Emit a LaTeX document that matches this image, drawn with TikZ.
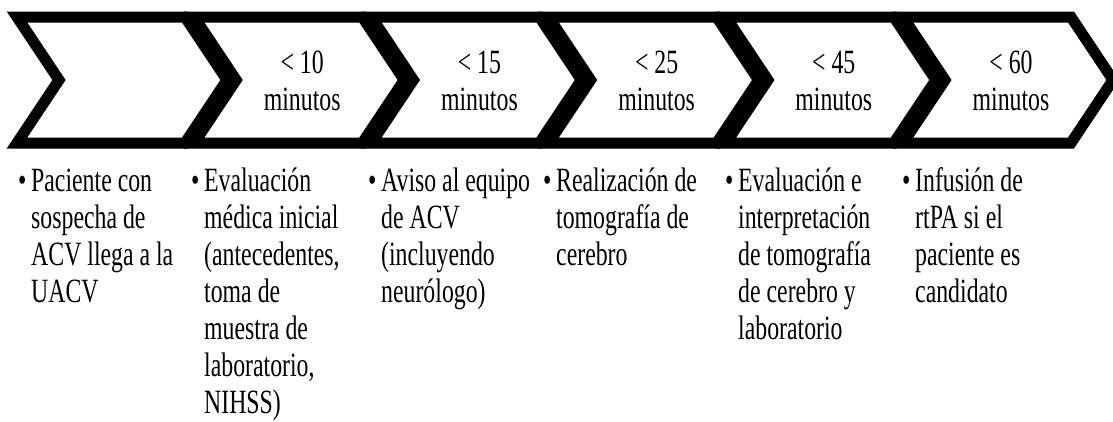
\documentclass[tikz,border=0pt]{standalone}
\usepackage{fontspec}
\setmainfont[FakeStretch=0.7]{Liberation Serif}
\begin{document}
\begin{tikzpicture}[x=1pt,y=-1pt,
  chev/.style={draw=black,line width=11pt,fill=white,line join=miter},
  hdr/.style={font=\fontsize{34}{37}\selectfont,inner sep=0pt,anchor=base},
  body/.style={font=\fontsize{34}{37}\selectfont,inner sep=0pt,anchor=base west}]
\useasboundingbox (0,0) rectangle (1113,421);
\foreach \i in {0,...,5} {
  \pgfmathsetmacro\xa{17+177.2*\i}
  \coordinate (c\i) at (\xa,17);
  \draw[chev] (c\i) -- ++(168,0) -- ++(42,63) -- ++(-42,63) -- ++(-168,0) -- ++(42,-63) -- cycle;
}
\foreach \i/\t in {1/10,2/15,3/25,4/45,5/60} {
  \node[hdr] (h\i) at ([shift={(108,56)}]c\i) {\begin{tabular}[t]{@{}c@{}}< \t\\minutos\end{tabular}};
}
\newcommand{\bul}{\makebox[13pt][l]{\textbullet}}
\node[body] (d0) at (18,191) {\bul\begin{tabular}[t]{@{}l@{}}Paciente con\\sospecha de\\ACV llega a la\\UACV\end{tabular}};
\node[body] (d1) at (191,191) {\bul\begin{tabular}[t]{@{}l@{}}Evaluación\\médica inicial\\(antecedentes,\\toma de\\muestra de\\laboratorio,\\NIHSS)\end{tabular}};
\node[body] (d2) at (368,191) {\bul\begin{tabular}[t]{@{}l@{}}Aviso al equipo\\de ACV\\(incluyendo\\neurólogo)\end{tabular}};
\node[body] (d3) at (543,191) {\bul\begin{tabular}[t]{@{}l@{}}Realización de\\tomografía de\\cerebro\end{tabular}};
\node[body] (d4) at (725,191) {\bul\begin{tabular}[t]{@{}l@{}}Evaluación e\\interpretación\\de tomografía\\de cerebro y\\laboratorio\end{tabular}};
\node[body] (d5) at (902,191) {\bul\begin{tabular}[t]{@{}l@{}}Infusión de\\rtPA si el\\paciente es\\candidato\end{tabular}};
\end{tikzpicture}
\end{document}
